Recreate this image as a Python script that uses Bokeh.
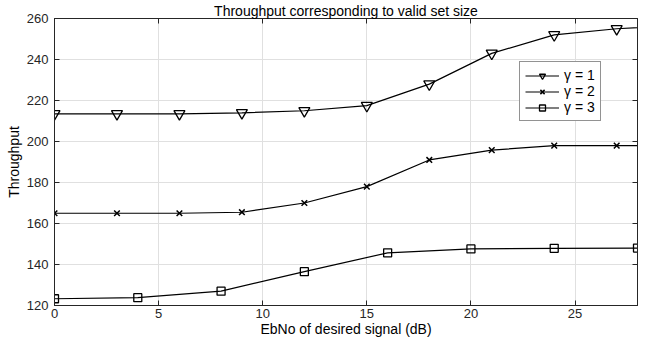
from bokeh.plotting import figure
from bokeh.models import LinearAxis, Range1d, FixedTicker, Legend, LegendItem
from bokeh.embed import file_html
from bokeh.resources import INLINE

# ---- data ----
x_g1 = [0, 3, 6, 9, 12, 15, 18, 21, 24, 27, 30]
y_g1 = [213.5, 213.5, 213.5, 214, 215, 217.5, 228, 243, 252, 255, 256.5]
x_g2 = [0, 3, 6, 9, 12, 15, 18, 21, 24, 27, 30]
y_g2 = [165, 165, 165, 165.5, 170, 178, 191, 195.8, 198, 198, 198]
x_g3 = [0, 4, 8, 12, 16, 20, 24, 28]
y_g3 = [123.3, 123.8, 127, 136.5, 145.7, 147.6, 147.9, 148]
labels = ["\u03b3 = 1", "\u03b3 = 2", "\u03b3 = 3"]
x_ticks = [0, 5, 10, 15, 20, 25]
y_ticks = [120, 140, 160, 180, 200, 220, 240, 260]

FONT = "Liberation Sans"
TXT = "#262626"

p = figure(width=638, height=339, output_backend="svg", toolbar_location=None,
           x_range=Range1d(0, 28), y_range=Range1d(120, 260),
           min_border_left=54, min_border_right=1, min_border_top=0, min_border_bottom=34,
           title="Throughput corresponding to valid set size")
p.title.align = "center"
p.title.text_font = FONT
p.title.text_font_size = "14px"
p.title.text_font_style = "normal"
p.title.text_color = "#000000"
p.title.standoff = 0
p.title.offset = 0

p.background_fill_color = "white"
p.border_fill_color = "white"
p.outline_line_color = TXT
p.outline_line_width = 1

for g in (p.xgrid, p.ygrid):
    g.grid_line_color = "#e0e0e0"
    g.grid_line_width = 1
p.xgrid.ticker = FixedTicker(ticks=x_ticks)
p.ygrid.ticker = FixedTicker(ticks=y_ticks)

def style_axis(ax, ticks, show_labels=True):
    ax.ticker = FixedTicker(ticks=ticks)
    ax.major_tick_in = 5
    ax.major_tick_out = 0
    ax.minor_tick_in = 0
    ax.minor_tick_out = 0
    ax.axis_line_color = TXT
    ax.major_tick_line_color = TXT
    ax.major_label_text_font = FONT
    ax.major_label_text_color = TXT
    ax.axis_label_text_font = FONT
    ax.axis_label_text_color = "#000000"
    ax.axis_label_text_font_style = "normal"
    if show_labels:
        ax.major_label_text_font_size = "13px"
        ax.axis_label_text_font_size = "14px"
    else:
        ax.major_label_overrides = {t: "" for t in ticks}
        ax.major_label_text_font_size = "1px"
        ax.major_label_standoff = 0

xa = p.xaxis[0]
style_axis(xa, x_ticks)
xa.axis_label = "EbNo of desired signal (dB)"
xa.major_label_standoff = 3
xa.axis_label_standoff = 0

ya = p.yaxis[0]
style_axis(ya, y_ticks)
ya.axis_label = "Throughput"
ya.major_label_standoff = 6
ya.axis_label_standoff = 2

top = LinearAxis()
style_axis(top, x_ticks, show_labels=False)
p.add_layout(top, "above")
right = LinearAxis()
style_axis(right, y_ticks, show_labels=False)
p.add_layout(right, "right")

lw = 1.2
l1 = p.line(x_g1, y_g1, line_color="black", line_width=lw)
m1 = p.scatter(x_g1, y_g1, marker="inverted_triangle", size=11, fill_color=None,
               line_color="black", line_width=1.3)
l2 = p.line(x_g2, y_g2, line_color="black", line_width=lw)
m2 = p.scatter(x_g2, y_g2, marker="x", size=8, line_color="black", line_width=1.5)
l3 = p.line(x_g3, y_g3, line_color="black", line_width=lw)
m3 = p.scatter(x_g3, y_g3, marker="square", size=8, fill_color=None,
               line_color="black", line_width=1.3)

legend = Legend(items=[LegendItem(label=labels[0], renderers=[l1, m1]),
                       LegendItem(label=labels[1], renderers=[l2, m2]),
                       LegendItem(label=labels[2], renderers=[l3, m3])],
                location=(465, 184))
legend.border_line_color = TXT
legend.border_line_width = 1
legend.background_fill_color = "white"
legend.background_fill_alpha = 1
legend.label_text_font = FONT
legend.label_text_font_size = "14px"
legend.label_text_color = "#000000"
legend.glyph_width = 34
legend.glyph_height = 15
legend.label_height = 15
legend.label_standoff = 5
legend.spacing = 0
legend.padding = 5
legend.margin = 0
p.add_layout(legend, "center")

open("out.html", "w").write(file_html(p, INLINE))
